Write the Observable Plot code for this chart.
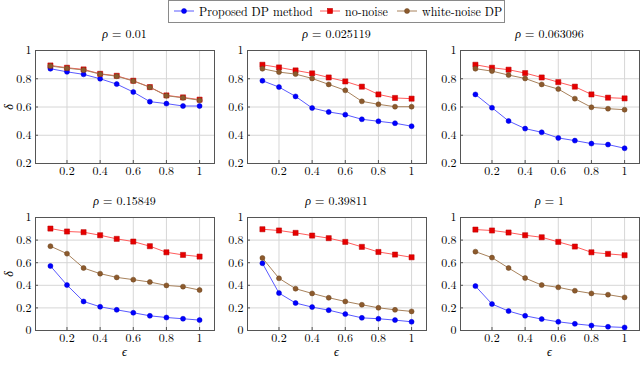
<!DOCTYPE html>
<html>
<head>
<meta charset="utf-8">
<script src="https://cdn.jsdelivr.net/npm/d3@7"></script>
<script src="https://cdn.jsdelivr.net/npm/@observablehq/plot@0.6"></script>
<style>
  html, body { margin: 0; padding: 0; background: #fff; }
  #root { position: relative; width: 640px; height: 371px; overflow: hidden; color: #000; }
  .txt { font-family: 'Latin Modern Roman', 'Liberation Serif', serif; }
  #root svg text, #root svg tspan { font-family: 'Latin Modern Roman', 'Liberation Serif', serif !important; }
  .title, .lab { position: absolute; font-size: 12px; white-space: nowrap; transform: translate(-50%, -50%); line-height: 1; }
  .legtext { position: absolute; font-size: 12px; white-space: nowrap; top: 11px; transform: translateY(-50%); line-height: 1; }
  #legend { position: absolute; left: 168px; top: 0px; width: 337px; height: 23px; border: 1px solid #8a8a8a; box-sizing: border-box; background: #fff; }
</style>
</head>
<body>
<div id="root"></div>
<script>
// ---- data ----
const eps = [0.1, 0.2, 0.3, 0.4, 0.5, 0.6, 0.7, 0.8, 0.9, 1];
const rhoLabels = ["0.01", "0.025119", "0.063096", "0.15849", "0.39811", "1"];
const seriesNames = ["Proposed DP method", "no-noise", "white-noise DP"];
const proposed = [
  [0.871, 0.849, 0.831, 0.800, 0.762, 0.706, 0.638, 0.624, 0.607, 0.607],
  [0.786, 0.741, 0.675, 0.593, 0.565, 0.546, 0.513, 0.499, 0.485, 0.464],
  [0.689, 0.595, 0.501, 0.447, 0.421, 0.381, 0.362, 0.341, 0.334, 0.308],
  [0.571, 0.402, 0.257, 0.210, 0.183, 0.157, 0.130, 0.115, 0.104, 0.092],
  [0.595, 0.331, 0.243, 0.207, 0.180, 0.145, 0.112, 0.104, 0.092, 0.077],
  [0.393, 0.234, 0.172, 0.130, 0.101, 0.077, 0.059, 0.044, 0.033, 0.027]
];
const noNoise = [
  [0.894, 0.878, 0.866, 0.835, 0.821, 0.786, 0.741, 0.682, 0.668, 0.652],
  [0.899, 0.880, 0.859, 0.838, 0.809, 0.781, 0.744, 0.689, 0.664, 0.659],
  [0.899, 0.878, 0.864, 0.840, 0.809, 0.776, 0.744, 0.689, 0.666, 0.661],
  [0.902, 0.876, 0.870, 0.843, 0.811, 0.787, 0.746, 0.692, 0.669, 0.654],
  [0.896, 0.885, 0.864, 0.840, 0.817, 0.784, 0.740, 0.695, 0.672, 0.648],
  [0.893, 0.885, 0.867, 0.843, 0.825, 0.784, 0.743, 0.692, 0.678, 0.666]
];
const whiteNoise = [
  [0.890, 0.875, 0.862, 0.833, 0.818, 0.784, 0.740, 0.680, 0.665, 0.648],
  [0.871, 0.847, 0.833, 0.802, 0.760, 0.718, 0.640, 0.619, 0.602, 0.602],
  [0.871, 0.854, 0.826, 0.802, 0.760, 0.727, 0.659, 0.598, 0.588, 0.581],
  [0.746, 0.680, 0.553, 0.503, 0.470, 0.450, 0.429, 0.399, 0.388, 0.358],
  [0.642, 0.462, 0.370, 0.328, 0.290, 0.257, 0.228, 0.201, 0.183, 0.169],
  [0.698, 0.645, 0.553, 0.464, 0.402, 0.382, 0.352, 0.328, 0.317, 0.293]
];
const xTicks = [0.2, 0.4, 0.6, 0.8, 1];
const yTicksTop = [0.2, 0.4, 0.6, 0.8, 1];
const yTicksBottom = [0, 0.2, 0.4, 0.6, 0.8, 1];

// ---- styles ----
const FONT = "'Latin Modern Roman', 'Liberation Serif', serif";
const styles = [
  {line: "#5a5aff", fill: "#0000ff", stroke: "#0000d0", symbol: "circle", r: 2.5},
  {line: "#ff5c5c", fill: "#e60000", stroke: "#b80000", symbol: "square", r: 2.9},
  {line: "#a8825c", fill: "#8c5a2d", stroke: "#6e4620", symbol: "circle", r: 2.5}
];
const allSeries = [proposed, noNoise, whiteNoise];

const root = document.getElementById("root");
const frameLefts = [35, 247, 460];
const frameTops = [50, 217];
const frameW = 179, frameH = 113, mL = 35, mT = 5;

function addDiv(cls, html, css) {
  const d = document.createElement("div");
  d.className = cls + " txt";
  d.innerHTML = html;
  d.style.fontFamily = FONT;
  Object.assign(d.style, css);
  root.appendChild(d);
  return d;
}

for (let i = 0; i < 6; i++) {
  const row = Math.floor(i / 3), col = i % 3;
  const mB = row ? 32 : 22;
  const yTicks = row ? yTicksBottom : yTicksTop;
  const marks = [
    Plot.gridX(xTicks, {stroke: "#d6d6d6", strokeOpacity: 1}),
    Plot.gridY(yTicks, {stroke: "#d6d6d6", strokeOpacity: 1}),
    Plot.axisX(xTicks, {tickSize: -3, tickPadding: 6, tickFormat: d => String(d), label: null, stroke: "#555", fontFamily: FONT}),
    Plot.axisY(yTicks, {tickSize: -3, tickPadding: 7, tickFormat: d => String(d), label: null, stroke: "#555", fontFamily: FONT}),
    Plot.frame({stroke: "#555", strokeWidth: 1})
  ];
  allSeries.forEach((ser, s) => {
    const st = styles[s];
    const data = eps.map((e, k) => ({eps: e, v: ser[i][k]}));
    marks.push(Plot.line(data, {x: "eps", y: "v", stroke: st.line, strokeWidth: 1}));
    marks.push(Plot.dot(data, {x: "eps", y: "v", symbol: st.symbol, r: st.r, fill: st.fill, stroke: st.stroke, strokeWidth: 0.5}));
  });
  const svg = Plot.plot({
    width: mL + frameW + 1,
    height: mT + frameH + mB,
    marginLeft: mL, marginRight: 1, marginTop: mT, marginBottom: mB,
    x: {domain: [0.01, 1.09], label: null},
    y: {domain: row ? [0, 1] : [0.2, 1], label: null},
    style: {fontFamily: FONT, fontSize: "12px", color: "#000", background: "transparent", overflow: "visible"},
    marks
  });
  svg.style.position = "absolute";
  svg.style.left = (frameLefts[col] - mL) + "px";
  svg.style.top = (frameTops[row] - mT) + "px";
  root.appendChild(svg);

  addDiv("title", "<i>ρ</i> = " + rhoLabels[i], {
    left: (frameLefts[col] + frameW / 2) + "px",
    top: (frameTops[row] - 17) + "px"
  });
  if (row === 1) {
    addDiv("lab", "<i>ϵ</i>", {
      left: (frameLefts[col] + frameW / 2) + "px",
      top: (frameTops[row] + frameH + 21) + "px"
    });
  }
  if (col === 0) {
    addDiv("lab", "<i>δ</i>", {
      left: "8px",
      top: (frameTops[row] + frameH / 2) + "px",
      transform: "translate(-50%, -50%) rotate(-90deg)"
    });
  }
}

// ---- legend ----
const legend = document.createElement("div");
legend.id = "legend";
root.appendChild(legend);
const swX = [174, 320, 397];
const txX = [199, 345, 422];
seriesNames.forEach((name, s) => {
  const st = styles[s];
  const sw = d3.create("svg").attr("width", 20).attr("height", 10)
    .style("position", "absolute").style("left", swX[s] + "px").style("top", "6px");
  sw.append("line").attr("x1", 0).attr("x2", 20).attr("y1", 5).attr("y2", 5).attr("stroke", st.line).attr("stroke-width", 1);
  if (st.symbol === "square") {
    sw.append("rect").attr("x", 7.4).attr("y", 2.4).attr("width", 5.2).attr("height", 5.2).attr("fill", st.fill).attr("stroke", st.stroke).attr("stroke-width", 0.5);
  } else {
    sw.append("circle").attr("cx", 10).attr("cy", 5).attr("r", st.r).attr("fill", st.fill).attr("stroke", st.stroke).attr("stroke-width", 0.5);
  }
  root.appendChild(sw.node());
  addDiv("legtext", "", {left: txX[s] + "px"}).textContent = name;
});
</script>
</body>
</html>
